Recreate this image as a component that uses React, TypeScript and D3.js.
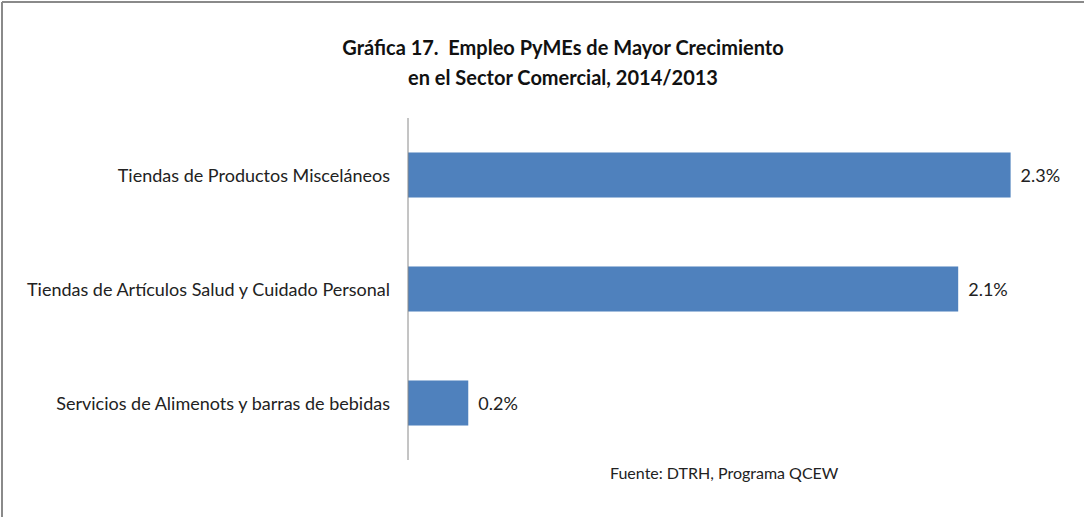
import React from "react";
import * as d3 from "d3";

const categories = [
  "Tiendas de Productos Misceláneos",
  "Tiendas de Artículos Salud y Cuidado Personal",
  "Servicios de Alimenots y barras de bebidas",
];
const values = [2.3, 2.1, 0.23];
const titleLines = [
  "Gráfica 17.  Empleo PyMEs de Mayor Crecimiento",
  "en el Sector Comercial, 2014/2013",
];
const sourceText = "Fuente: DTRH, Programa QCEW";

const W = 1084;
const H = 517;
const FONT = "Lato, 'Open Sans', sans-serif";

export default function App() {
  const axisX = 408;
  const x = d3.scaleLinear().domain([0, 2.5]).range([axisX, axisX + 655]);
  const y = d3
    .scaleBand<string>()
    .domain(categories)
    .range([118, 460])
    .paddingInner(0.605)
    .paddingOuter(0.3025);

  return (
    <svg
      width={W}
      height={H}
      style={{ position: "absolute", left: 0, top: 0, background: "#fff" }}
      fontFamily={FONT}
    >
      <rect x={0} y={0} width={W} height={H} fill="#fff" />
      <line x1={2} y1={2} x2={W} y2={2} stroke="#8a8a8a" strokeWidth={2} />
      <line x1={2} y1={2} x2={2} y2={H} stroke="#8a8a8a" strokeWidth={2} />

      {titleLines.map((t, i) => (
        <text
          key={i}
          x={563}
          y={47 + i * 30}
          textAnchor="middle"
          dominantBaseline="central"
          fontSize={20}
          fontWeight="bold"
          fill="#111"
          style={{ whiteSpace: "pre" }}
        >
          {t}
        </text>
      ))}

      {categories.map((c, i) => (
        <g key={c}>
          <rect
            x={x(0)}
            y={y(c)!}
            width={x(values[i]) - x(0)}
            height={y.bandwidth()}
            fill="#4F81BD"
          />
          <text
            x={axisX - 18}
            y={y(c)! + y.bandwidth() / 2}
            textAnchor="end"
            dominantBaseline="central"
            fontSize={18}
            fill="#222"
          >
            {c}
          </text>
          <text
            x={x(values[i]) + 10}
            y={y(c)! + y.bandwidth() / 2}
            dominantBaseline="central"
            fontSize={18}
            fill="#222"
          >
            {values[i].toFixed(1) + "%"}
          </text>
        </g>
      ))}

      <line x1={axisX} y1={118} x2={axisX} y2={460} stroke="#8a8a8a" strokeWidth={1} />

      <text x={610} y={472} dominantBaseline="central" fontSize={16} fill="#222">
        {sourceText}
      </text>
    </svg>
  );
}
